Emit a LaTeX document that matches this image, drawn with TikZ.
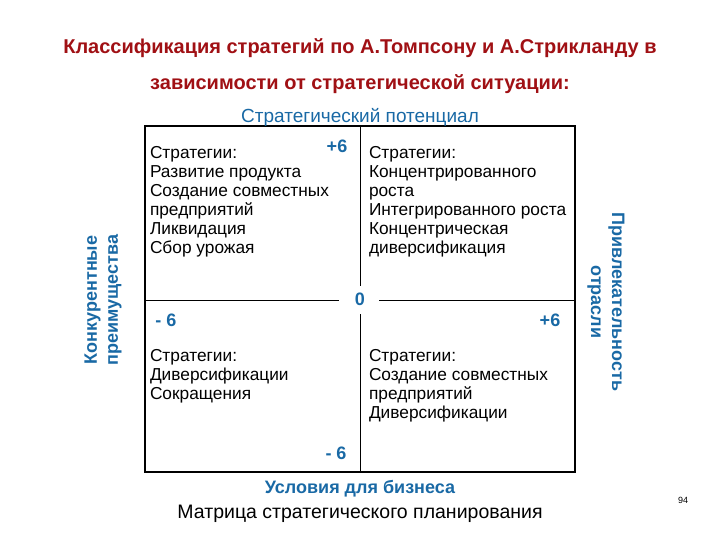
\documentclass[tikz,border=0pt]{standalone}
\usepackage{fontspec}
\setmainfont{Liberation Sans}
\definecolor{ttl}{RGB}{160,16,20}
\definecolor{lbl}{RGB}{25,105,165}
\begin{document}
\begin{tikzpicture}[x=1pt,y=-1pt,
  every node/.style={inner sep=0pt,outer sep=0pt},
  ttlstyle/.style={text=ttl,font=\fontsize{20}{22}\selectfont\bfseries},
  axlbl/.style={text=lbl,font=\fontsize{19}{21}\selectfont},
  axbold/.style={text=lbl,font=\fontsize{18}{21}\selectfont\bfseries},
  numlbl/.style={text=lbl,font=\fontsize{18}{19}\selectfont\bfseries},
  body/.style={anchor=north west,align=left,font=\fontsize{17.3}{19}\selectfont},
  frame/.style={line width=1.6pt},
  divider/.style={line width=1pt}]
\useasboundingbox (0,0) rectangle (720,540);
\node[ttlstyle] (t1) at (360,48) {Классификация стратегий по А.Томпсону и А.Стрикланду в};
\node[ttlstyle] (t2) at (360,84) {зависимости от стратегической ситуации:};
% frame
\coordinate (tl) at (145,126);
\coordinate (br) at (575,472);
\draw[frame] (tl) rectangle (br);
\node[numlbl] (zero) at (360,299) {0};
\coordinate (vtop) at (360,126);
\coordinate (vbot) at (360,472);
\coordinate (hl) at (145,300);
\coordinate (hr) at (575,300);
\coordinate (vg1) at (360,286);
\coordinate (vg2) at (360,314);
\coordinate (hg1) at (339,300);
\coordinate (hg2) at (379,300);
\draw[divider] (vtop) -- (vg1);
\draw[divider] (vg2) -- (vbot);
\draw[divider] (hl) -- (hg1);
\draw[divider] (hg2) -- (hr);
% axis labels
\node[axlbl] (top) at (360,117) {Стратегический потенциал};
\node[axbold] (bottom) at (360,489) {Условия для бизнеса};
\node[font=\fontsize{19.5}{21}\selectfont] (cap) at (360,514) {Матрица стратегического планирования};
\node[axbold,rotate=90,align=center] (left) at (103,300) {Конкурентные\\преимущества};
\node[axbold,rotate=-90,align=center] (right) at (606,302) {Привлекательность\\отрасли};
% numbers
\node[numlbl] (n1) at (337,146) {+6};
\node[numlbl] (n2) at (166,320) {- 6};
\node[numlbl] (n3) at (550,320) {+6};
\node[numlbl] (n4) at (336,453) {- 6};
\node[font=\fontsize{9}{10}\selectfont] (pg) at (683,500) {94};
% quadrants
\node[body] (q1) at (150,146) {Стратегии:\\Развитие продукта\\Создание совместных\\предприятий\\Ликвидация\\Сбор урожая};
\node[body] (q2) at (369,146) {Стратегии:\\Концентрированного\\роста\\Интегрированного роста\\Концентрическая\\диверсификация};
\node[body] (q3) at (150,349) {Стратегии:\\Диверсификации\\Сокращения};
\node[body] (q4) at (369,349) {Стратегии:\\Создание совместных\\предприятий\\Диверсификации};
\end{tikzpicture}
\end{document}
